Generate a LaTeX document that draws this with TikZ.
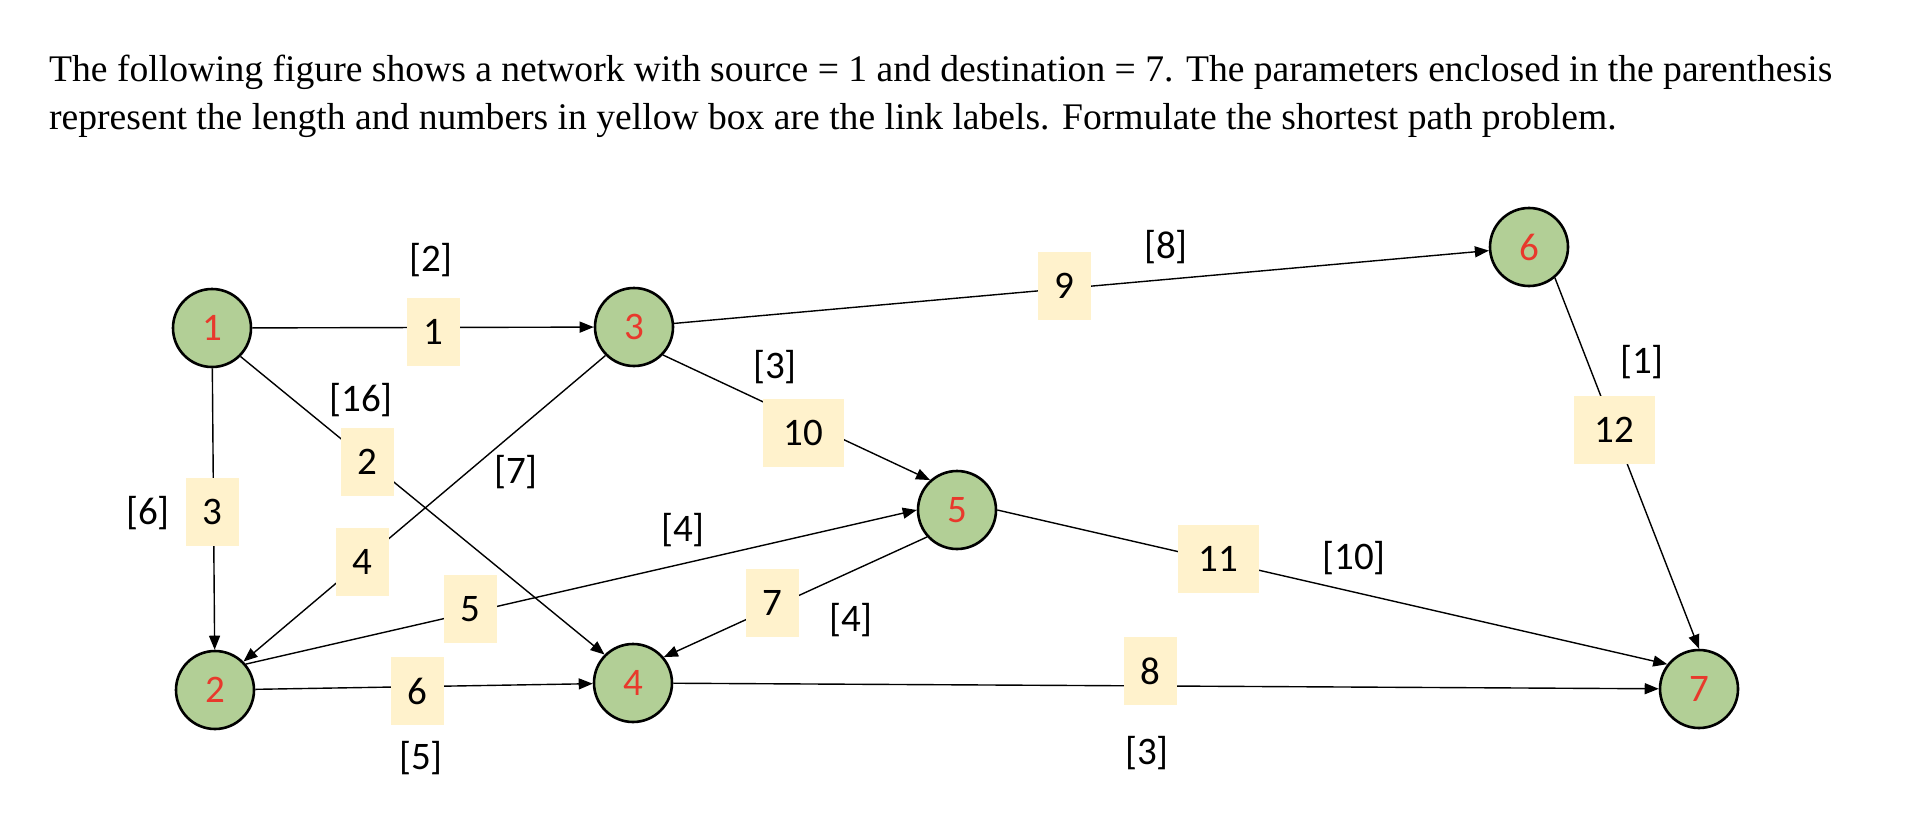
\documentclass[tikz,border=0pt]{standalone}
\usepackage{fontspec}
\setmainfont{Liberation Serif}
\newfontfamily\calfont{Carlito}
\usetikzlibrary{arrows.meta}
\definecolor{nodegreen}{HTML}{B2CF96}
\definecolor{numred}{HTML}{E8392C}
\definecolor{boxyellow}{HTML}{FFF2CC}
\tikzset{
  vertex/.style={circle, draw=black, line width=2.6pt, fill=nodegreen, minimum size=78pt, inner sep=0pt, text=numred, font=\calfont\fontsize{39}{42}\selectfont},
  linkbox/.style={fill=boxyellow, minimum width=53pt, minimum height=68pt, inner sep=0pt, font=\calfont\fontsize{39}{42}\selectfont},
  linkboxw/.style={linkbox, minimum width=81pt},
  weight/.style={inner sep=0pt, font=\calfont\fontsize{39}{42}\selectfont},
  edge/.style={line width=1.4pt, -{Triangle[length=14pt,width=11pt]}},
  title/.style={anchor=base west, inner sep=0pt, font=\fontsize{37.6}{42}\selectfont}
}
\begin{document}
\begin{tikzpicture}[x=1pt,y=-1pt]
\useasboundingbox[fill=white] (0,0) rectangle (1910,832);
\node[title] (t1) at (49,82) {The following figure shows a network with source = 1 and destination = 7. The parameters enclosed in the parenthesis};
\node[title] (t2) at (49,129) {represent the length and numbers in yellow box are the link labels. Formulate the shortest path problem.};

\node[vertex] (n1) at (212,328) {1};
\node[vertex] (n2) at (215,690) {2};
\node[vertex] (n3) at (634,327) {3};
\node[vertex] (n4) at (633,683) {4};
\node[vertex] (n5) at (957,510) {5};
\node[vertex] (n6) at (1529,247) {6};
\node[vertex] (n7) at (1699,689) {7};

\draw[edge] (n1) -- (n3);
\draw[edge] (n1.-45) -- (n4.135);
\draw[edge] (n1) -- (n2);
\draw[edge] (n3.-135) -- (n2.45);
\draw[edge] (n2.40) -- (n5.west);
\draw[edge] (n2) -- (n4);
\draw[edge] (n5.222) -- (n4.40);
\draw[edge] (n4) -- (n7);
\draw[edge] (n3) -- (n6);
\draw[edge] (n3.-44) -- (n5.132);
\draw[edge] (n5.east) -- (n7.142);
\draw[edge] (n6.-50) -- (n7.north);

\node[linkbox] (b1) at (433,332) {1};
\node[linkbox] (b2) at (367,462) {2};
\node[linkbox] (b3) at (212,512) {3};
\node[linkbox] (b4) at (362,562) {4};
\node[linkbox] (b5) at (470,609) {5};
\node[linkbox] (b6) at (417,691) {6};
\node[linkbox] (b7) at (772,603) {7};
\node[linkbox] (b8) at (1150,671) {8};
\node[linkbox] (b9) at (1064,286) {9};
\node[linkboxw] (b10) at (803,433) {10};
\node[linkboxw] (b11) at (1218,559) {11};
\node[linkboxw] (b12) at (1614,430) {12};

\node[weight] (w1) at (431,260) {[2]};
\node[weight] (w2) at (361,400) {[16]};
\node[weight] (w3) at (148,513) {[6]};
\node[weight] (w4) at (516,472) {[7]};
\node[weight] (w5) at (683,530) {[4]};
\node[weight] (w6) at (421,758) {[5]};
\node[weight] (w7) at (851,620) {[4]};
\node[weight] (w8) at (1147,753) {[3]};
\node[weight] (w9) at (1166,247) {[8]};
\node[weight] (w10) at (775,367) {[3]};
\node[weight] (w11) at (1354,558) {[10]};
\node[weight] (w12) at (1642,362) {[1]};
\end{tikzpicture}
\end{document}
